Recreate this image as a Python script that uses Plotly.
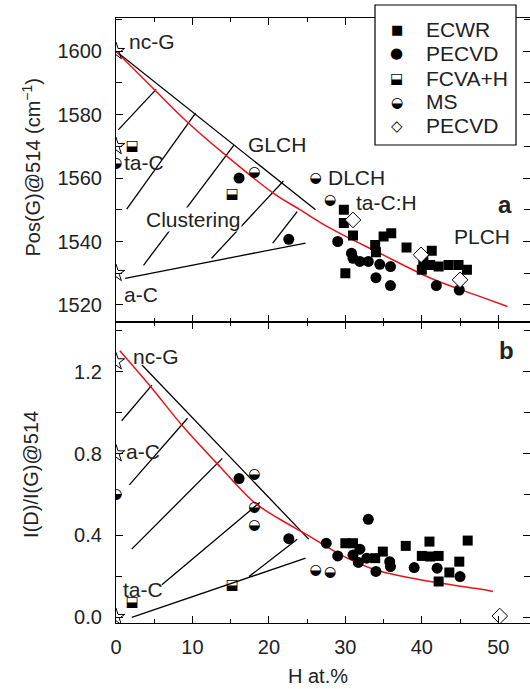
import plotly.graph_objects as go

# ---------------- data ----------------
# Panel a : Pos(G) @514 (cm-1) vs H at.%
ecwr_h_a = [29.8, 29.8, 31.0, 33.9, 34.0, 35.0, 36.0, 38.0, 41.3, 40.2, 40.0, 41.1, 42.2, 43.5, 44.8, 45.9, 30.0]
ecwr_pos = [1550.0, 1545.8, 1541.9, 1538.9, 1536.6, 1541.6, 1542.6, 1538.1, 1537.1, 1534.2, 1531.1, 1532.6, 1532.1, 1532.6, 1532.6, 1531.1, 1530.0]
pecvd_h_a = [16.1, 22.6, 29.0, 30.8, 31.0, 31.9, 33.0, 34.5, 35.9, 34.0, 35.9, 41.9, 44.9]
pecvd_pos = [1560.0, 1540.7, 1540.0, 1536.3, 1534.7, 1533.7, 1533.7, 1532.8, 1532.1, 1528.6, 1526.1, 1526.1, 1524.7]
fcva_h_a = [2.1, 15.2]
fcva_pos = [1570.0, 1554.9]
ms_h_a = [0.0, 18.1, 26.1, 28.0]
ms_pos = [1564.7, 1561.7, 1560.0, 1552.8]
pecvd2_h_a = [31.0, 39.9, 45.0]
pecvd2_pos = [1546.8, 1535.8, 1527.9]
star_h_a = [0.0, 0.0, 0.0]
star_pos = [1600.0, 1570.0, 1530.0]

# Panel b : I(D)/I(G) @514 vs H at.%
ecwr_h_b = [30.0, 31.0, 34.9, 33.9, 37.9, 41.0, 40.0, 41.1, 42.2, 42.2, 43.6, 44.9, 46.0]
ecwr_ratio = [0.362, 0.362, 0.321, 0.289, 0.349, 0.370, 0.300, 0.297, 0.300, 0.175, 0.219, 0.272, 0.375]
pecvd_h_b = [16.1, 22.6, 27.5, 29.0, 31.0, 31.9, 31.7, 33.0, 32.8, 34.0, 35.8, 35.9, 39.0, 42.0, 45.0]
pecvd_ratio = [0.678, 0.384, 0.362, 0.300, 0.305, 0.333, 0.268, 0.479, 0.289, 0.224, 0.272, 0.248, 0.243, 0.240, 0.199]
fcva_h_b = [2.1, 15.2]
fcva_ratio = [0.072, 0.153]
ms_h_b = [0.0, 18.1, 18.1, 18.1, 26.1, 28.0]
ms_ratio = [0.60, 0.70, 0.538, 0.449, 0.231, 0.219]
pecvd2_h_b = [50.2]
pecvd2_ratio = [0.006]
star_h_b = [0.0, 0.0, 0.0]
star_ratio = [1.25, 0.80, 0.0]

# boundary lines of the amorphisation trajectory
upper_a_h = [0.0, 26.1]
upper_a_pos = [1600.0, 1550.0]
lower_a_h = [1.2, 24.8]
lower_a_pos = [1528.4, 1539.5]
tie_a_h0 = [0.3, 1.4, 3.6, 12.5, 20.5]
tie_a_p0 = [1575.2, 1550.2, 1532.5, 1534.7, 1539.5]
tie_a_h1 = [5.25, 10.4, 15.4, 21.9, 23.7]
tie_a_p1 = [1588.0, 1580.5, 1570.3, 1559.1, 1549.4]

upper_b_h = [3.4, 25.2]
upper_b_r = [1.233, 0.382]
lower_b_h = [2.06, 24.8]
lower_b_r = [0.0, 0.289]
tie_b_h0 = [0.74, 1.75, 2.06, 6.0, 17.4]
tie_b_r0 = [0.961, 0.647, 0.333, 0.159, 0.199]
tie_b_h1 = [4.7, 9.36, 13.9, 18.8, 23.7]
tie_b_r1 = [1.135, 0.973, 0.777, 0.561, 0.382]

# red trend curves
red_a_h = [0.0, 5.1, 9.5, 14.3, 20.6, 24.1, 28.0, 34.5, 41.1, 47.2, 51.2]
red_a_pos = [1600.0, 1587.7, 1577.3, 1567.3, 1555.2, 1550.0, 1544.2, 1536.3, 1528.5, 1523.0, 1519.5]
red_b_h = [0.5, 4.7, 8.6, 13.6, 18.2, 21.5, 25.0, 29.4, 33.7, 39.8, 42.3, 47.6, 49.3]
red_b_r = [1.303, 1.12, 0.94, 0.736, 0.558, 0.478, 0.403, 0.305, 0.235, 0.183, 0.167, 0.138, 0.126]

legend_labels = ["ECWR", "PECVD", "FCVA+H", "MS", "PECVD"]

# ---------------- figure ----------------
FONT = "Liberation Sans, Arial, sans-serif"
GLYPH_FONT = "DejaVu Sans"
fig = go.Figure()


def seg(h0, v0, h1, v1):
    xs, ys = [], []
    for a, b, c, d in zip(h0, v0, h1, v1):
        xs += [a, c, None]
        ys += [b, d, None]
    return xs, ys


def add_line(x, y, xa, ya, color="black", width=1.3, shape="linear"):
    fig.add_trace(go.Scatter(x=x, y=y, mode="lines", xaxis=xa, yaxis=ya,
                             line=dict(color=color, width=width, shape=shape),
                             showlegend=False, hoverinfo="skip"))


def add_marks(x, y, xa, ya, symbol, size, color="black", lw=0):
    fig.add_trace(go.Scatter(x=x, y=y, mode="markers", xaxis=xa, yaxis=ya,
                             marker=dict(symbol=symbol, size=size, color=color,
                                         line=dict(color="black", width=lw)),
                             showlegend=False, cliponaxis=True))


def add_glyph(x, y, xa, ya, glyph, size):
    fig.add_trace(go.Scatter(x=x, y=y, mode="text", xaxis=xa, yaxis=ya,
                             text=[glyph] * len(x), textposition="middle center",
                             textfont=dict(family=GLYPH_FONT, size=size, color="black"),
                             showlegend=False, cliponaxis=True))


for xa, ya, up_h, up_v, lo_h, lo_v, t, red_h, red_v in [
    ("x", "y", upper_a_h, upper_a_pos, lower_a_h, lower_a_pos,
     (tie_a_h0, tie_a_p0, tie_a_h1, tie_a_p1), red_a_h, red_a_pos),
    ("x2", "y2", upper_b_h, upper_b_r, lower_b_h, lower_b_r,
     (tie_b_h0, tie_b_r0, tie_b_h1, tie_b_r1), red_b_h, red_b_r),
]:
    add_line(up_h, up_v, xa, ya)
    add_line(lo_h, lo_v, xa, ya)
    sx, sy = seg(*t)
    add_line(sx, sy, xa, ya)
    add_line(red_h, red_v, xa, ya, color="#e8141c", width=1.5, shape="spline")

# panel a markers
add_marks(ecwr_h_a, ecwr_pos, "x", "y", "square", 10)
add_marks(pecvd_h_a, pecvd_pos, "x", "y", "circle", 11)
add_glyph(fcva_h_a, fcva_pos, "x", "y", "⬓", 14)
add_glyph(ms_h_a, ms_pos, "x", "y", "◒", 14)
add_marks(pecvd2_h_a, pecvd2_pos, "x", "y", "diamond", 12, color="white", lw=1)
add_marks(star_h_a, star_pos, "x", "y", "star-open", 13, lw=1)
# panel b markers
add_marks(ecwr_h_b, ecwr_ratio, "x2", "y2", "square", 10)
add_marks(pecvd_h_b, pecvd_ratio, "x2", "y2", "circle", 11)
add_glyph(fcva_h_b, fcva_ratio, "x2", "y2", "⬓", 14)
add_glyph(ms_h_b, ms_ratio, "x2", "y2", "◒", 14)
add_marks(pecvd2_h_b, pecvd2_ratio, "x2", "y2", "diamond", 12, color="white", lw=1)
add_marks(star_h_b, star_ratio, "x2", "y2", "star-open", 13, lw=1)

# ---------------- axes ----------------
XR = [0, 54.15]
common = dict(showline=True, linecolor="black", linewidth=1.2, mirror="ticks",
              ticks="inside", tickcolor="black", tickwidth=1.2, showgrid=False,
              zeroline=False, tickfont=dict(family=FONT, size=20, color="#222"))
fig.update_layout(
    xaxis=dict(domain=[0, 1], anchor="y", range=XR, dtick=10, tick0=0, ticklen=7,
               showticklabels=False,
               minor=dict(dtick=5, ticklen=4, ticks="inside", tickcolor="black"), **common),
    yaxis=dict(domain=[0.498, 1], anchor="x", range=[1514.7, 1610.5], dtick=20, tick0=1520,
               ticklen=7, ticklabelstandoff=9,
               minor=dict(dtick=10, ticklen=6, ticks="inside", tickcolor="black"), **common),
    xaxis2=dict(domain=[0, 1], anchor="y2", range=XR, dtick=10, tick0=0, ticklen=7,
                ticklabelstandoff=6,
                minor=dict(dtick=5, ticklen=4, ticks="inside", tickcolor="black"), **common),
    yaxis2=dict(domain=[0, 0.498], anchor="x2", range=[-0.028, 1.445], dtick=0.4, tick0=0,
                tickformat=".1f", ticklen=7, ticklabelstandoff=9,
                minor=dict(dtick=0.2, ticklen=6, ticks="inside", tickcolor="black"), **common),
    width=530, height=689,
    margin=dict(l=116, r=0, t=18, b=66),
    paper_bgcolor="white", plot_bgcolor="white",
    showlegend=False,
    font=dict(family=FONT, size=20, color="#222"),
)

# ---------------- texts ----------------
ann = []


def txt(x, y, s, xref, yref, size=21, xanchor="left", bold=False, bg=None):
    d = dict(x=x, y=y, xref=xref, yref=yref, text=("<b>%s</b>" % s) if bold else s,
             showarrow=False, xanchor=xanchor, yanchor="middle",
             font=dict(family=FONT, size=size, color="#222"), borderpad=0)
    if bg:
        d["bgcolor"] = bg
    ann.append(d)


txt(1.57, 1603.1, "nc-G", "x", "y")
txt(0.92, 1564.9, "ta-C", "x", "y")
txt(17.1, 1570.5, "GLCH", "x", "y")
txt(3.8, 1546.8, "Clustering", "x", "y", bg="white")
txt(0.92, 1523.2, "a-C", "x", "y")
txt(27.56, 1560.1, "DLCH", "x", "y")
txt(31.26, 1552.2, "ta-C:H", "x", "y")
txt(44.07, 1541.6, "PLCH", "x", "y")
txt(50.9, 1551.6, "a", "x", "y", size=24, xanchor="center", bold=True)

txt(2.05, 1.277, "nc-G", "x2", "y2")
txt(1.18, 0.81, "a-C", "x2", "y2")
txt(0.75, 0.138, "ta-C", "x2", "y2")
txt(51.1, 1.306, "b", "x2", "y2", size=24, xanchor="center", bold=True)

# axis titles
ann.append(dict(x=-0.205, y=0.753, xref="paper", yref="paper", showarrow=False,
                text="Pos(G)@514 (cm<sup>−1</sup>)", textangle=-90,
                xanchor="center", yanchor="middle", font=dict(family=FONT, size=20, color="#222")))
ann.append(dict(x=-0.205, y=0.245, xref="paper", yref="paper", showarrow=False,
                text="I(D)/I(G)@514", textangle=-90,
                xanchor="center", yanchor="middle", font=dict(family=FONT, size=20, color="#222")))
ann.append(dict(x=0.488, y=-0.088, xref="paper", yref="paper", showarrow=False,
                text="H at.%", xanchor="center", yanchor="middle",
                font=dict(family=FONT, size=20, color="#222")))

# legend box (manual, so half-filled symbols can be shown)
fig.add_shape(type="rect", xref="paper", yref="paper", x0=0.6256, x1=0.9662,
              y0=0.7901, y1=1.0215, fillcolor="white", line=dict(color="black", width=1.2),
              layer="above")
leg_y = [0.9818, 0.9421, 0.9008, 0.8612, 0.8215]
leg_glyph = ["■", "●", "⬓", "◒", "◇"]
leg_gsize = [13, 15, 14, 14, 15]
for yy, g, gs, lab in zip(leg_y, leg_glyph, leg_gsize, legend_labels):
    ann.append(dict(x=0.678, y=yy, xref="paper", yref="paper", text=g, showarrow=False,
                    xanchor="center", yanchor="middle",
                    font=dict(family=GLYPH_FONT, size=gs, color="black")))
    ann.append(dict(x=0.744, y=yy, xref="paper", yref="paper", text=lab, showarrow=False,
                    xanchor="left", yanchor="middle",
                    font=dict(family=FONT, size=21, color="#222")))

fig.update_layout(annotations=ann)

fig.write_html("out.html", config={"displayModeBar": False},
               post_script="document.body.style.margin='0';document.body.style.overflow='hidden';")
